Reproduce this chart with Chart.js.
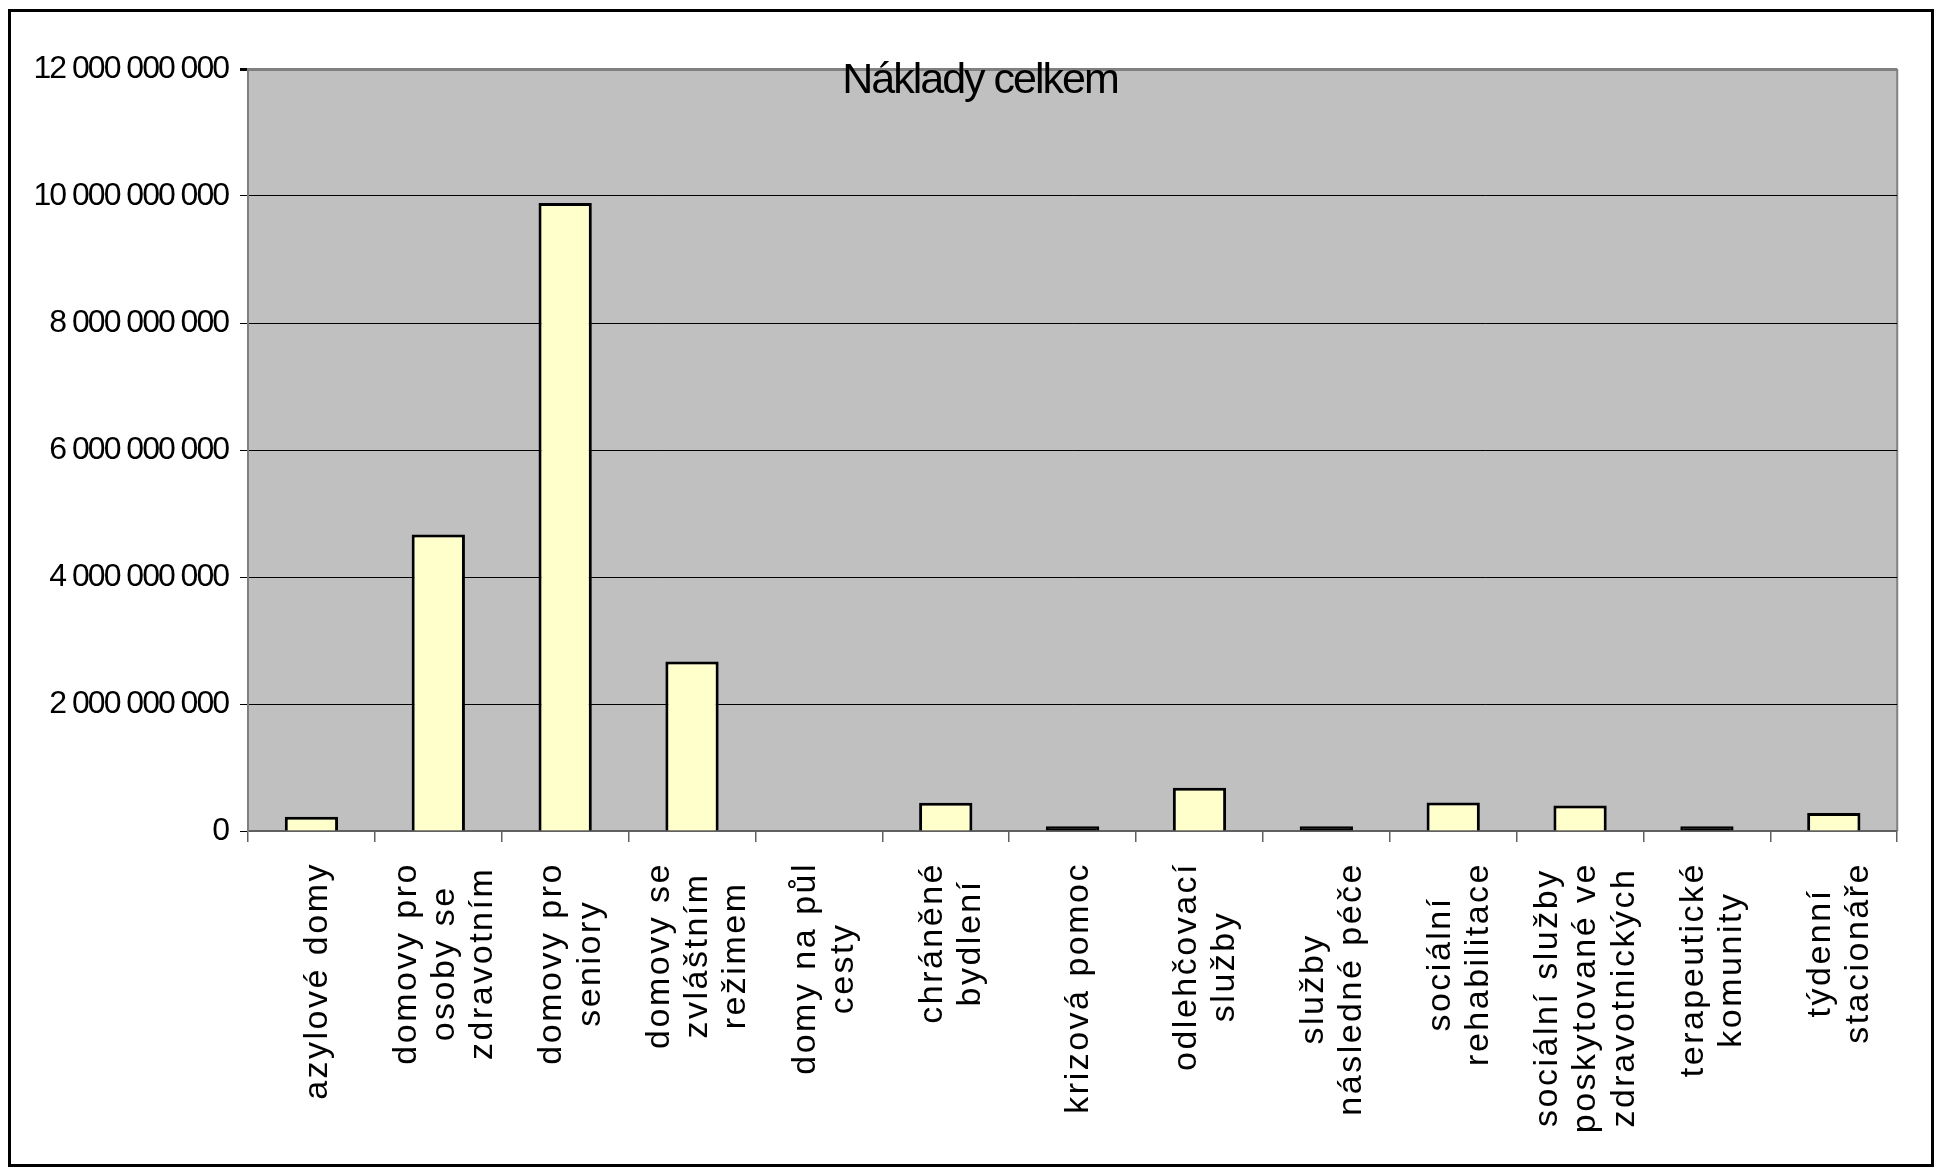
<!DOCTYPE html>
<html>
<head>
<meta charset="utf-8">
<title>Náklady celkem</title>
<script src="https://cdn.jsdelivr.net/npm/chart.js@4/dist/chart.umd.min.js"></script>
<style>
  html, body { margin: 0; padding: 0; background: #fff; }
  #frame {
    position: absolute; left: 8px; top: 9px;
    width: 1926px; height: 1158px;
    border: 3px solid #000; box-sizing: border-box;
  }
  canvas { display: block; }
</style>
</head>
<body>
<div id="frame"><canvas id="chart" width="1920" height="1152"></canvas></div>
<script>
// categories (multi-line labels as in the original sheet)
const categories = [
    "azylové domy",
    ["domovy pro", "osoby se", "zdravotním"],
    ["domovy pro", "seniory"],
    ["domovy se", "zvláštním", "režimem"],
    ["domy na půl", "cesty"],
    ["chráněné", "bydlení"],
    "krizová pomoc",
    ["odlehčovací", "služby"],
    ["služby", "následné péče"],
    ["sociální", "rehabilitace"],
    ["sociální služby", "poskytované ve", "zdravotnických"],
    ["terapeutické", "komunity"],
    ["týdenní", "stacionáře"]
];

// costs in CZK
const costs = [
    225000000,
    4670000000,
    9890000000,
    2670000000,
    0,
    445000000,
    75000000,
    680000000,
    75000000,
    450000000,
    400000000,
    75000000,
    283000000
];

const yTickValues = [0, 2000000000, 4000000000, 6000000000, 8000000000, 10000000000, 12000000000];

const FONT = "'Liberation Sans Narrow', 'Arial Narrow', 'Liberation Sans', Arial, sans-serif";
const TIGHT_SPACING = "-2px";     // y labels + title look condensed
const WIDE_SPACING = "2.5px";     // category labels are spaced out

function spaced(v) {
    return v.toString().replace(/\B(?=(\d{3})+(?!\d))/g, " ");
}

// grey plot area + right border
const plotFrame = {
    id: "plotFrame",
    afterLayout(chart) {
        // y labels are wider than the axis box (title needs the left padding)
        chart.scales.y._computeLabelArea = () => undefined;
    },
    beforeDraw(chart) {
        const { ctx, chartArea: a } = chart;
        ctx.save();
        ctx.fillStyle = "#c0c0c0";
        ctx.fillRect(a.left, a.top, a.right - a.left, a.bottom - a.top);
        ctx.strokeStyle = "#808080";
        ctx.lineWidth = 2;
        ctx.beginPath();
        ctx.moveTo(a.right, a.top);
        ctx.lineTo(a.right, a.bottom);
        ctx.stroke();
        ctx.restore();
        ctx.letterSpacing = TIGHT_SPACING;
    },
    beforeDatasetsDraw(chart) {
        chart.ctx.letterSpacing = "0px";
    }
};

// letter-spaced, centred multi-line category labels
const spacedLabels = {
    id: "spacedLabels",
    afterDatasetsDraw(chart) {
        const ctx = chart.ctx;
        const items = chart.scales.x.getLabelItems(chart.chartArea);
        items.forEach(item => {
            if (item._centered) return;
            const lines = [].concat(item.label);
            ctx.save();
            ctx.font = item.font.string;
            ctx.letterSpacing = WIDE_SPACING;
            const w = Math.max(...lines.map(l => ctx.measureText(l).width));
            ctx.restore();
            const [tx, ty] = item.options.translation;
            const lh = item.font.lineHeight;
            item.options.translation = [tx - (lines.length - 1) * lh / 2 + 6, ty + w / 2];
            item.options.textAlign = "center";
            item._centered = true;
        });
        ctx.letterSpacing = WIDE_SPACING;
    },
    afterDraw(chart) {
        chart.ctx.letterSpacing = "0px";
    }
};

new Chart(document.getElementById("chart"), {
    type: "bar",
    data: {
        labels: categories,
        datasets: [{
            label: "Náklady celkem",
            data: costs,
            // very small bars show up as solid black slivers in the original
            backgroundColor: c => (c.raw < 100000000 ? "#000000" : "#ffffcc"),
            borderColor: "#000000",
            borderWidth: 3,
            borderSkipped: "bottom",
            barPercentage: 0.42,
            categoryPercentage: 1
        }]
    },
    options: {
        responsive: false,
        animation: false,
        layout: { padding: { left: 45, right: 27, top: 0, bottom: 0 } },
        plugins: {
            legend: { display: false },
            tooltip: { enabled: false },
            title: {
                display: true,
                text: "Náklady celkem",
                color: "#000",
                font: { family: FONT, size: 43, weight: "normal", lineHeight: 1 },
                padding: { top: 48, bottom: -34 }
            }
        },
        scales: {
            x: {
                afterFit: s => { s.height = 333; },
                ticks: {
                    autoSkip: false,
                    maxRotation: 90,
                    minRotation: 90,
                    padding: 20,
                    z: 1,
                    color: "#000",
                    font: { family: FONT, size: 34, lineHeight: 1.12 }
                },
                grid: {
                    drawOnChartArea: false,
                    tickLength: 11,
                    color: "#606060",
                    lineWidth: 1.5
                },
                border: { color: "#606060", width: 2 }
            },
            y: {
                min: 0,
                max: 12000000000,
                afterFit: s => { s.width = 192; },
                afterBuildTicks: s => { s.ticks = yTickValues.map(v => ({ value: v })); },
                ticks: {
                    padding: 12,
                    color: "#000",
                    font: { family: FONT, size: 32 },
                    callback: v => spaced(v)
                },
                grid: {
                    tickLength: 8,
                    tickColor: "#000",
                    color: c => (c.tick && (c.tick.value === 0 || c.tick.value === 12000000000)) ? "#808080" : "#000",
                    lineWidth: c => (c.tick && c.tick.value === 12000000000) ? 3 : 1
                },
                border: { color: "#808080", width: 2 }
            }
        }
    },
    plugins: [plotFrame, spacedLabels]
});
</script>
</body>
</html>
